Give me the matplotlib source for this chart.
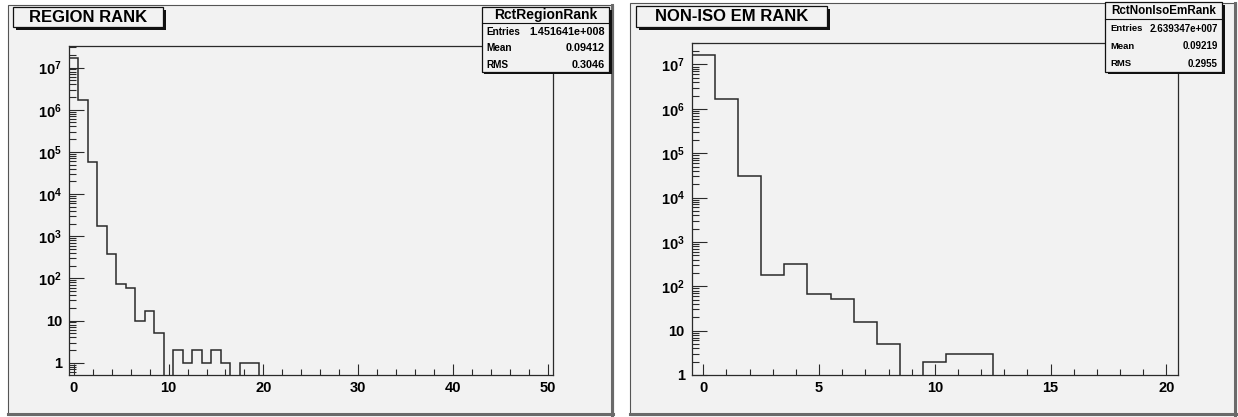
import numpy as np
import matplotlib
matplotlib.use("Agg")
import matplotlib.pyplot as plt
from matplotlib.patches import Rectangle
from matplotlib.lines import Line2D
from matplotlib.ticker import FixedLocator, FuncFormatter, NullFormatter

# ---- data ----
region_counts = [1.65e7, 1.66e6, 5.8e4, 1.7e3, 380, 72, 58, 10, 16.5, 5,
                 0, 2, 1, 2, 1, 2, 1, 0, 1, 1] + [0] * 31
region_title = "REGION RANK"
region_name = "RctRegionRank"
region_stats = [("Entries", "1.451641e+008"), ("Mean", "0.09412"), ("RMS", "0.3046")]
region_xticks = [0, 10, 20, 30, 40, 50]

noniso_counts = [1.65e7, 1.64e6, 3.0e4, 182, 318, 66, 53, 16, 4.9,
                 0, 2, 3, 3] + [0] * 8
noniso_title = "NON-ISO EM RANK"
noniso_name = "RctNonIsoEmRank"
noniso_stats = [("Entries", "2.639347e+007"), ("Mean", "0.09219"), ("RMS", "0.2955")]
noniso_xticks = [0, 5, 10, 15, 20]

W, H = 1238, 417
PAD_BG = "#f2f2f2"
INK = "#2a2a2a"

plt.rcParams["font.family"] = ["Liberation Sans", "DejaVu Sans"]
plt.rcParams["mathtext.fontset"] = "custom"
plt.rcParams["mathtext.rm"] = "Liberation Sans:bold"
plt.rcParams["mathtext.bf"] = "Liberation Sans:bold"

fig = plt.figure(figsize=(W / 100, H / 100), dpi=100)
fig.patch.set_facecolor("white")


def fx(x):
    return x / W


def fy(y):
    return 1 - y / H


def box(x0, y0, x1, y1, fc, ec, lw, z, shadow=0):
    if shadow:
        fig.add_artist(Rectangle((fx(x0 + shadow), fy(y1 + shadow)), fx(x1 - x0), (y1 - y0) / H,
                                 transform=fig.transFigure, facecolor="#111111",
                                 edgecolor="none", zorder=z - 0.1))
    fig.add_artist(Rectangle((fx(x0), fy(y1)), fx(x1 - x0), (y1 - y0) / H,
                             transform=fig.transFigure, facecolor=fc,
                             edgecolor=ec, linewidth=lw, zorder=z))


def pad(x0, y0, x1, y1):
    box(x0, y0, x1, y1, PAD_BG, "#555555", 0.8, -5)
    # bevel: darker right / bottom edge
    fig.add_artist(Line2D([fx(x1 - 1), fx(x1 - 1)], [fy(y0), fy(y1)], transform=fig.transFigure,
                          color="#6a6a6a", lw=2.2, zorder=-4))
    fig.add_artist(Line2D([fx(x0), fx(x1)], [fy(y1 - 1), fy(y1 - 1)], transform=fig.transFigure,
                          color="#6a6a6a", lw=2.2, zorder=-4))


def log_label(v, pos):
    e = int(round(np.log10(v)))
    if e == 0:
        return "1"
    if e == 1:
        return "10"
    return r"$\mathbf{10^{%d}}$" % e


def panel(rect_px, counts, ymin, ymax, xticks, xminor):
    x0, y0, x1, y1 = rect_px
    ax = fig.add_axes([fx(x0), fy(y1), fx(x1 - x0), (y1 - y0) / H])
    ax.set_facecolor(PAD_BG)
    n = len(counts)
    edges = np.arange(n + 1) - 0.5
    # step outline, broken at empty bins
    xs, ys = [], []
    inside = False
    for i, c in enumerate(counts):
        if c > 0:
            if not inside:
                xs += [edges[i]]
                ys += [ymin]
                inside = True
            xs += [edges[i], edges[i + 1]]
            ys += [c, c]
        elif inside:
            xs += [edges[i], np.nan]
            ys += [ymin, np.nan]
            inside = False
    if inside:
        xs += [edges[n]]
        ys += [ymin]
    ax.plot(xs, ys, color=INK, lw=1.1, clip_on=True, solid_joinstyle="miter")
    ax.set_yscale("log")
    ax.set_xlim(edges[0], edges[-1])
    ax.set_ylim(ymin, ymax)
    for s in ax.spines.values():
        s.set_color(INK)
        s.set_linewidth(0.9)
    # only ticks inside the visible range
    lo, hi = int(np.ceil(np.log10(ymin))), int(np.floor(np.log10(ymax)))
    majors = [10.0 ** e for e in range(lo, hi + 1)]
    minors = [m * 10.0 ** e for e in range(lo - 1, hi + 1) for m in range(2, 10)]
    minors = [m for m in minors if ymin <= m <= ymax]
    ax.yaxis.set_major_locator(FixedLocator(majors))
    ax.yaxis.set_minor_locator(FixedLocator(minors))
    ax.yaxis.set_major_formatter(FuncFormatter(log_label))
    ax.yaxis.set_minor_formatter(NullFormatter())
    ax.xaxis.set_major_locator(FixedLocator(xticks))
    ax.xaxis.set_minor_locator(FixedLocator(np.arange(0, edges[-1], xminor)))
    ax.tick_params(axis="both", which="both", direction="in", color=INK, width=0.8,
                   top=False, right=False, labelcolor="black")
    ax.tick_params(axis="y", which="major", length=10.5, pad=5)
    ax.tick_params(axis="y", which="minor", length=5)
    ax.tick_params(axis="x", which="major", length=7.8, pad=4)
    ax.tick_params(axis="x", which="minor", length=4.2)
    for lab in ax.get_xticklabels() + ax.get_yticklabels():
        lab.set_fontsize(10.5)
        lab.set_fontweight("bold")
    return ax


def title_box(x0, y0, x1, y1, text):
    box(x0, y0, x1, y1, PAD_BG, "#111111", 0.9, 5, shadow=3)
    fig.text(fx((x0 + x1) / 2), fy((y0 + y1) / 2), text, ha="center", va="center",
             fontsize=12, fontweight="bold", zorder=6)


def stats_box(x0, y0, x1, y1, yhead, name, stats, head_fs, lab_fs, val_fs):
    box(x0, y0, x1, y1, PAD_BG, "#111111", 0.9, 5, shadow=2.5)
    fig.add_artist(Line2D([fx(x0), fx(x1)], [fy(yhead), fy(yhead)], transform=fig.transFigure,
                          color="#111111", lw=0.8, zorder=6))
    fig.text(fx((x0 + x1) / 2), fy((y0 + yhead) / 2 + 0.5), name, ha="center", va="center",
             fontsize=head_fs, fontweight="bold", zorder=6)
    row_h = (y1 - yhead) / len(stats)
    for k, (lab, val) in enumerate(stats):
        yc = yhead + row_h * (k + 0.5) + 1
        fig.text(fx(x0 + 5), fy(yc), lab, ha="left", va="center",
                 fontsize=lab_fs, fontweight="bold", zorder=6)
        fig.text(fx(x1 - 4), fy(yc), val, ha="right", va="center",
                 fontsize=val_fs, fontweight="bold", zorder=6)


# pads
pad(8, 5, 613, 415)
pad(630, 3, 1236, 415)

panel((69, 45.7, 552.7, 375), region_counts, 0.51, 3.3e7, region_xticks, 2)
panel((691.7, 42.7, 1178, 375), noniso_counts, 1.0, 3.1e7, noniso_xticks, 1)

title_box(13.3, 7.3, 163, 26.7, region_title)
title_box(636, 6, 827, 27, noniso_title)

stats_box(481.7, 7.3, 609, 71.7, 22.7, region_name, region_stats, 10, 7.2, 7.8)
stats_box(1105, 2.5, 1222, 71.7, 19, noniso_name, noniso_stats, 8.4, 6.8, 7.0)

fig.savefig("out.png", dpi=100, facecolor="white")
